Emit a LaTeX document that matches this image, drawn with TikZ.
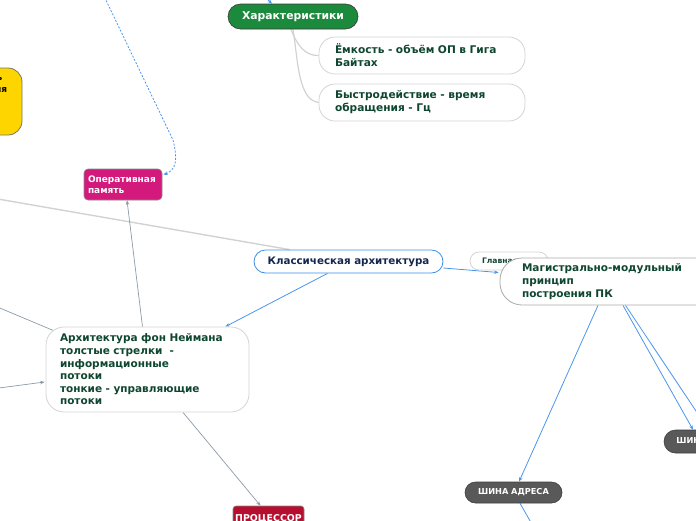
\documentclass[tikz,border=0pt]{standalone}
\usepackage{fontspec}
\setmainfont{DejaVu Sans}
\usetikzlibrary{calc,arrows.meta}
\definecolor{chargreen}{HTML}{1C8A3C}
\definecolor{operpink}{HTML}{D31A7C}
\definecolor{procred}{HTML}{B50E2E}
\definecolor{busgray}{HTML}{595959}
\definecolor{extyellow}{HTML}{FFD500}
\definecolor{linkblue}{HTML}{4A95EC}
\definecolor{linkgray}{HTML}{8C9AA8}
\definecolor{lightline}{HTML}{D2D2D2}
\definecolor{txtgreen}{HTML}{0F4630}
\definecolor{klasstext}{HTML}{15264F}
\definecolor{klassborder}{HTML}{3B8FE6}
\definecolor{bordergray}{HTML}{D4D4D4}
\definecolor{darkborder}{HTML}{3A3A3A}
\pgfdeclarelayer{background}
\pgfsetlayers{background,main}
\tikzset{
  wbox/.style={draw=bordergray, fill=white, line width=0.8pt, text=txtgreen,
    font=\bfseries\fontsize{10.5}{12.6}\selectfont, align=left, inner ysep=0pt},
  filledbox/.style={draw=darkborder!60, line width=0.6pt, text=white, inner ysep=0pt},
  bluelink/.style={draw=linkblue, line width=0.8pt},
  graylink/.style={draw=linkgray, line width=0.7pt},
  softlink/.style={draw=lightline, line width=1.4pt},
  tip/.style={-{Stealth[length=4.5pt,width=3.5pt]}},
}
\begin{document}
\begin{tikzpicture}[x=1pt,y=-1pt]
\useasboundingbox (0,0) rectangle (696,520);
\clip (0,0) rectangle (696,520);

% yellow node (cut at left edge)
\node[draw=darkborder!70, fill=extyellow, line width=0.8pt, rounded corners=14pt,
  minimum width=100pt, minimum height=67pt, inner sep=0pt] (ext) at (-28,101.5) {};
\node[font=\bfseries\fontsize{9}{12}\selectfont, align=right, anchor=north east,
  inner sep=0pt, text=black] (exttext) at ($(ext.north east)+(-15,6)$)
  {Внешняя память\hspace*{5pt}\\долговременного хранения};

% Характеристики
\node[filledbox, fill=chargreen, draw=darkborder, rounded corners=12.5pt,
  minimum width=130pt, minimum height=25pt,
  font=\bfseries\fontsize{10.8}{12}\selectfont] (char) at (293,16.5) {Характеристики};
\node[wbox, rounded corners=16pt, text width=174pt, inner xsep=16pt, minimum height=37pt,
  font=\bfseries\fontsize{10.6}{13}\selectfont]
  (emk) at (422,55.5) {Ёмкость - объём ОП в Гига\\Байтах};
\node[wbox, rounded corners=16pt, text width=174pt, inner xsep=16pt, minimum height=37pt,
  font=\bfseries\fontsize{10.6}{13}\selectfont]
  (bys) at (422,102.5) {Быстродействие - время\\обращения - Гц};

% Оперативная память
\node[filledbox, fill=operpink, rounded corners=4pt, text width=70pt, inner xsep=4pt,
  minimum height=31pt, align=left, font=\bfseries\fontsize{9}{11}\selectfont]
  (oper) at (123,184.5) {Оперативная\\память};

% Классическая архитектура
\node[draw=klassborder, fill=white, line width=0.8pt, rounded corners=11.5pt,
  minimum width=189pt, minimum height=23pt, inner sep=0pt, text=klasstext,
  font=\bfseries\fontsize{10.3}{12}\selectfont] (klass) at (348.5,261.5) {Классическая архитектура};

% Главная (partly hidden)
\node[wbox, rounded corners=9pt, text width=54pt, inner xsep=12pt, minimum height=18pt,
  font=\bfseries\fontsize{7.6}{9}\selectfont] (glav) at (509,261) {Главная};

% Магистрально-модульный принцип
\node[wbox, draw=bordergray!80!black, rounded corners=22pt, text width=180pt, inner xsep=22pt,
  minimum height=47pt] (magi) at (612,281.5)
  {Магистрально-модульный\\принцип\\построения ПК};

% Архитектура фон Неймана
\node[wbox, rounded corners=18pt, text width=175pt, inner xsep=14pt, minimum height=85pt]
  (neum) at (147.5,369.5)
  {Архитектура фон Неймана\\толстые стрелки \ -\\информационные\\потоки\\тонкие - управляющие\\потоки};

% ПРОЦЕССОР
\node[filledbox, fill=procred, rounded corners=3pt, minimum width=71pt, minimum height=26pt,
  inner sep=0pt, font=\bfseries\fontsize{9.4}{11}\selectfont] (proc) at (268.5,519) {ПРОЦЕССОР};

% buses
\node[filledbox, fill=busgray, draw=busgray!70!black, rounded corners=10.5pt, minimum width=97pt,
  minimum height=21pt, inner sep=0pt, font=\bfseries\fontsize{8.2}{10}\selectfont]
  (adr) at (513.5,492.5) {ШИНА АДРЕСА};
\node[filledbox, fill=busgray, draw=busgray!70!black, rounded corners=11.5pt, minimum width=100pt,
  minimum height=23pt, inner sep=0pt, font=\bfseries\fontsize{8.2}{10}\selectfont]
  (dat) at (714,441.5) {ШИНА ДАННЫХ};

% free ends
\coordinate (dtop) at (103,-6);
\coordinate (ctop) at (262,-6);
\coordinate (lgleft) at (-5,198.5);
\coordinate (gleft1) at (-5,306);
\coordinate (gleft2) at (-5,388.5);
\coordinate (adrdown) at (533,526);
\coordinate (offright) at (702,420);

\begin{pgfonlayer}{background}
  % dashed link into Оперативная память
  \draw[bluelink, dash pattern=on 2pt off 1.6pt, tip]
    (dtop) -- (173,140) .. controls (178,160) and (176,170) .. ([xshift=1pt,yshift=-6pt]oper.north east);
  % small arrow into Характеристики
  \draw[bluelink, tip] (ctop) -- ($(char.north)+(-21,0)$);
  % Характеристики children
  \draw[softlink, line width=1.2pt] ($(char.south)+(-2,0)$) .. controls (297,45) and (305,56) .. (emk.west);
  \draw[softlink, line width=1.2pt] ($(char.south)+(0,0)$) .. controls (298,60) and (298,100) .. (bys.west);
  % long light line
  \draw[softlink] (lgleft) -- ($(klass.north west)+(36,0)$);
  % Классическая -> Магистрально
  \draw[bluelink, tip] ($(klass.east)+(0,6.5)$) -- ($(magi.west)+(-1,-9)$);
  % Классическая -> фон Нейман
  \draw[bluelink, tip] ($(klass.south)+(-21,0)$) -- ($(neum.north east)+(-24,0)$);
  % фон Нейман -> Оперативная память
  \draw[graylink, tip] ($(neum.north)+(-5,0)$) -- ($(oper.south)+(4,0)$);
  % left lines
  \draw[graylink] (gleft1) -- ($(neum.north west)+(8,4)$);
  \draw[graylink, tip] (gleft2) -- ($(neum.west)+(-1,12.5)$);
  % фон Нейман -> ПРОЦЕССОР
  \draw[graylink, tip] ($(neum.south)+(35.5,0)$) -- ($(proc.north)+(-8,0)$);
  % Магистрально -> buses
  \draw[bluelink, tip] ($(magi.south)+(-14,0)$) -- ($(adr.north)+(5.5,0)$);
  \draw[bluelink] ($(adr.south)+(6.5,0)$) -- (adrdown);
  \draw[bluelink, tip] ($(magi.south)+(11,0)$) -- ($(dat.north)+(-21,0)$);
  \draw[bluelink] ($(magi.south)+(13.5,0)$) -- (offright);
\end{pgfonlayer}
\end{tikzpicture}
\end{document}
